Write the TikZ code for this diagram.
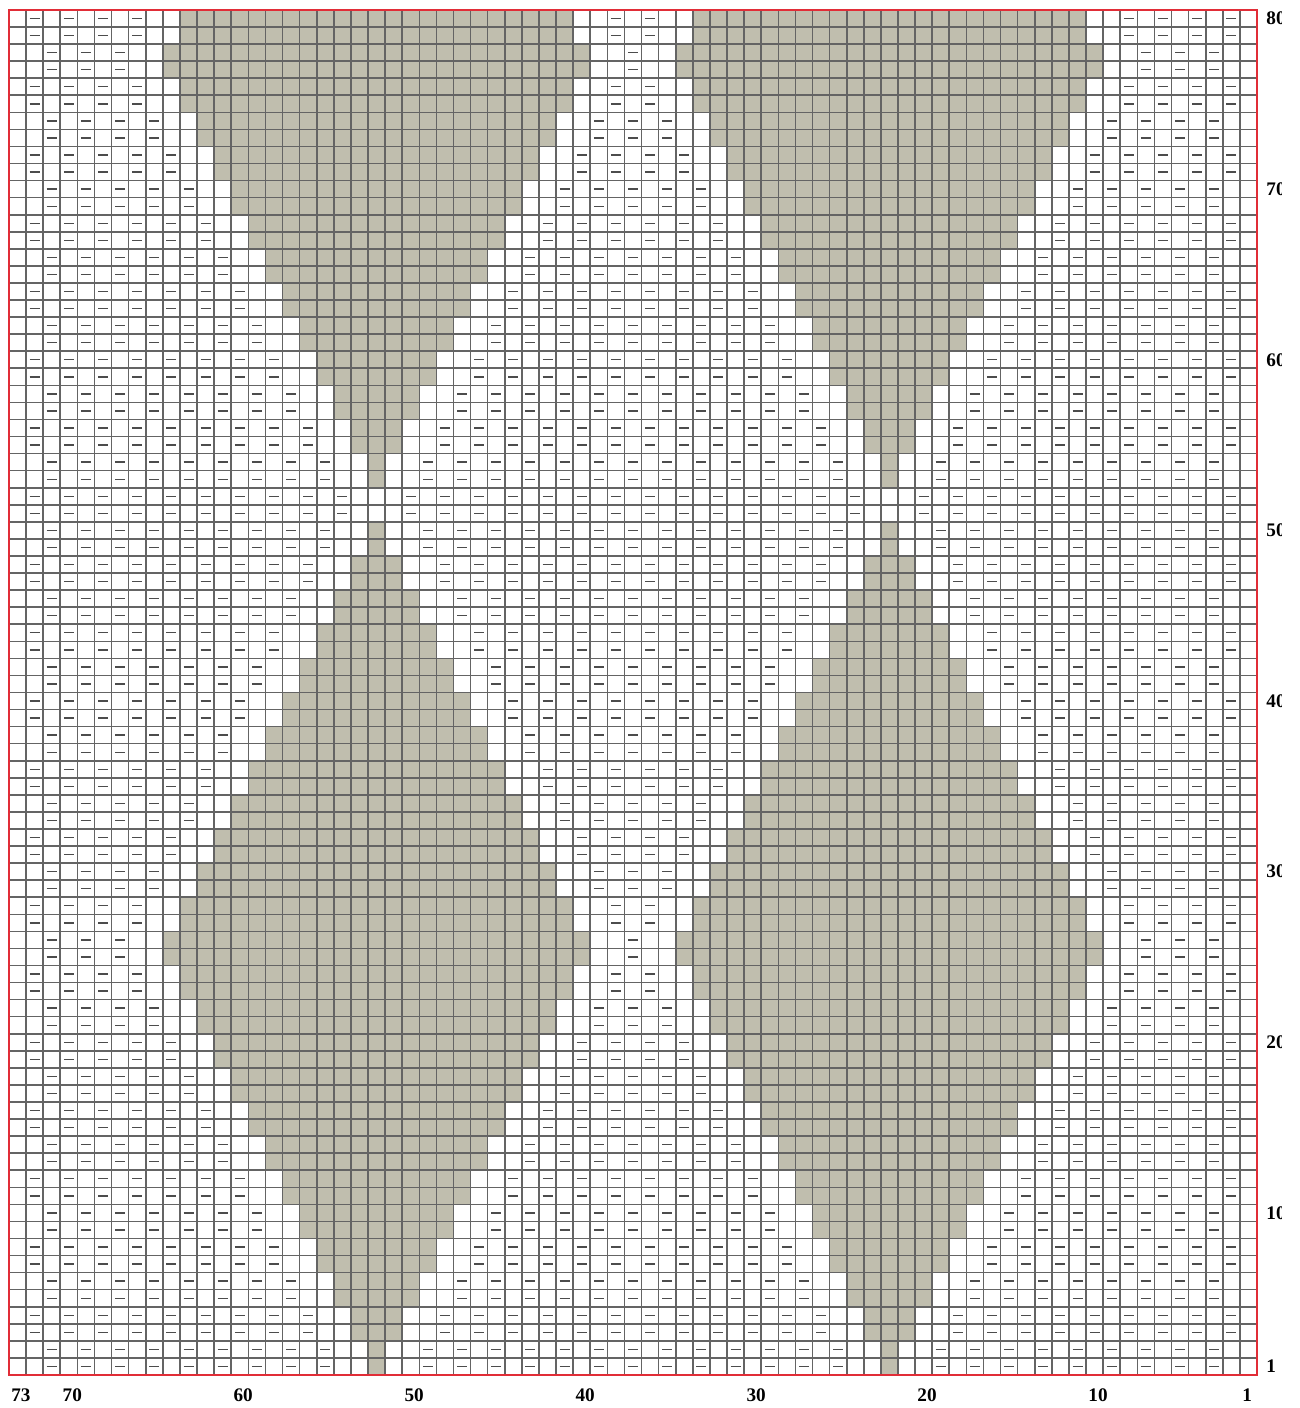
\documentclass[tikz,border=0pt]{standalone}
\usepackage{fontspec}
\setmainfont{Liberation Serif}
\begin{document}
\begin{tikzpicture}[x=0.5pt,y=0.5pt,
  cellfill/.style={fill=motif,draw=none},
  purl/.style={draw=black!70,line width=0.7pt},
  gridline/.style={draw=gridc,line width=0.8pt},
  frameline/.style={draw=framec,line width=1pt},
  lab/.style={font=\bfseries\fontsize{9.6}{11}\selectfont,inner sep=0pt,text=black}]
\definecolor{motif}{RGB}{192,190,174}
\definecolor{gridc}{RGB}{100,100,100}
\definecolor{framec}{RGB}{225,45,55}
\def\XR{1257}\def\CW{17.096}\def\YB{33}\def\CH{17.0625}
\useasboundingbox (0,0) rectangle (1300,1408);
\fill[white] (0,0) rectangle (1300,1408);
% shaded motifs
\foreach \rw in {1,...,80}{
  \pgfmathtruncatemacro\rr{\rw>52 ? \rw-52 : \rw}
  \pgfmathtruncatemacro\hh{ceil(min(\rr,51-\rr)/2)-1}
  \ifnum\hh>-1
    \foreach \cm in {52,22}{
      \fill[cellfill] ({\XR-(\cm+\hh)*\CW},{\YB+(\rw-1)*\CH}) rectangle ({\XR-(\cm-\hh-1)*\CW},{\YB+\rw*\CH});
    }
  \fi
}
% purl dashes
\foreach \rw in {1,...,80}{
  \pgfmathtruncatemacro\rr{\rw>52 ? \rw-52 : \rw}
  \pgfmathtruncatemacro\hh{ceil(min(\rr,51-\rr)/2)-1}
  \pgfmathtruncatemacro\nh{\hh>-1 ? \hh+1 : 0}
  \pgfmathtruncatemacro\st{mod(ceil(\rw/2),2)==0 ? 2 : 3}
  \pgfmathtruncatemacro\sn{\st+2}
  \foreach \cl in {\st,\sn,...,72}{
    \pgfmathtruncatemacro\ok{(abs(\cl-52)>\nh) && (abs(\cl-22)>\nh)}
    \ifnum\ok=1
      \draw[purl] ({\XR-(\cl-0.5)*\CW-5},{\YB+(\rw-0.5)*\CH}) -- ({\XR-(\cl-0.5)*\CW+5},{\YB+(\rw-0.5)*\CH});
    \fi
  }
}
% grid
\foreach \k in {0,...,73}
  \draw[gridline] ({\XR-\k*\CW},\YB) -- ({\XR-\k*\CW},{\YB+80*\CH});
\foreach \k in {0,...,80}
  \draw[gridline] ({\XR-73*\CW},{\YB+\k*\CH}) -- (\XR,{\YB+\k*\CH});
% frame
\draw[frameline] ({\XR-73*\CW},\YB) rectangle (\XR,{\YB+80*\CH});
% row labels (clipped at the right like the reference)
\begin{scope}
\clip (0,0) rectangle (1281,1408);
\foreach \rw in {1,10,20,30,40,50,60,70,80}
  \node[lab,anchor=west] (rl\rw) at (1266,{\YB+(\rw-0.5)*\CH}) {\rw};
\end{scope}
% column labels
\foreach \cl in {73,70,60,50,40,30,20,10,1}
  \node[lab,anchor=base west] (cl\cl) at ({\XR-\cl*\CW+2},6) {\cl};
\end{tikzpicture}
\end{document}
